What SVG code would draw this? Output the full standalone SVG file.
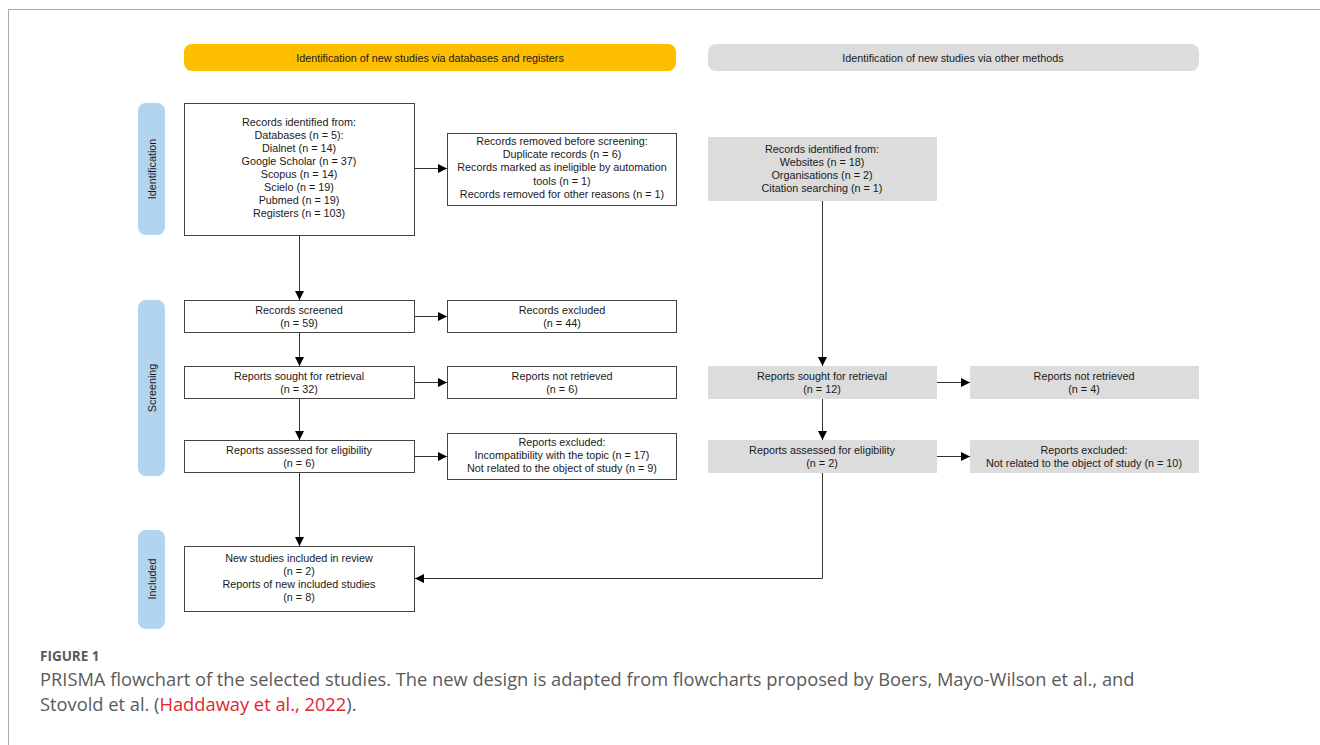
<svg xmlns="http://www.w3.org/2000/svg" width="1320" height="745" viewBox="0 0 1320 745">
<style>
.t{font-family:"Liberation Sans",Arial,sans-serif;font-size:10.8px;fill:#1a1a1a;text-anchor:middle}
.box{fill:#fff;stroke:#444;stroke-width:1}
.gbox{fill:#dcdcdc;stroke:none}
.side{fill:#b3d4ef}
.edge{fill:none;stroke:#333;stroke-width:1}
.cap{font-family:"Open Sans","Noto Sans",sans-serif;fill:#5a5a5a}
</style>
<defs>
<marker id="ah" viewBox="0 0 10 10" refX="10" refY="5" markerWidth="11" markerHeight="9" markerUnits="userSpaceOnUse" orient="auto">
<path d="M0,0 L10,5 L0,10 z" fill="#000"/>
</marker>
</defs>
<rect width="1320" height="745" fill="#fff"/>
<path d="M8.5,745 V9.5 H1320" fill="none" stroke="#aaa" stroke-width="1"/>

<g id="hdr-db"><rect x="184" y="44" width="492" height="27" rx="8" fill="#fdbf00"/><text class="t" x="430" y="61.5">Identification of new studies via databases and registers</text></g>
<g id="hdr-other"><rect x="708" y="44" width="491" height="27" rx="8" fill="#dcdcdc"/><text class="t" x="953" y="61.5">Identification of new studies via other methods</text></g>

<g id="side-ident"><rect class="side" x="138" y="103" width="27" height="132" rx="8"/><text class="t" transform="translate(155.5,169) rotate(-90)">Identification</text></g>
<g id="side-screen"><rect class="side" x="138" y="300" width="27" height="176" rx="8"/><text class="t" transform="translate(155.5,388) rotate(-90)">Screening</text></g>
<g id="side-incl"><rect class="side" x="138" y="530" width="27" height="99" rx="8"/><text class="t" transform="translate(155.5,579) rotate(-90)">Included</text></g>

<g id="n-identified"><rect class="box" x="184.5" y="103.5" width="230" height="132"/>
<text class="t" x="299" y="126">Records identified from:</text>
<text class="t" x="299" y="139">Databases (n = 5):</text>
<text class="t" x="299" y="152">Dialnet (n = 14)</text>
<text class="t" x="299" y="165">Google Scholar (n = 37)</text>
<text class="t" x="299" y="178">Scopus (n = 14)</text>
<text class="t" x="299" y="191">Scielo (n = 19)</text>
<text class="t" x="299" y="204">Pubmed (n = 19)</text>
<text class="t" x="299" y="217">Registers (n = 103)</text></g>

<g id="n-removed"><rect class="box" x="447.5" y="133.5" width="229" height="72"/>
<text class="t" x="562" y="145">Records removed before screening:</text>
<text class="t" x="562" y="158">Duplicate records (n = 6)</text>
<text class="t" x="562" y="171">Records marked as ineligible by automation</text>
<text class="t" x="562" y="185">tools (n = 1)</text>
<text class="t" x="562" y="198">Records removed for other reasons (n = 1)</text></g>

<g id="n-screened"><rect class="box" x="184.5" y="300.5" width="230" height="32"/>
<text class="t" x="299" y="314">Records screened</text><text class="t" x="299" y="327">(n = 59)</text></g>
<g id="n-excluded"><rect class="box" x="447.5" y="300.5" width="229" height="32"/>
<text class="t" x="562" y="314">Records excluded</text><text class="t" x="562" y="327">(n = 44)</text></g>

<g id="n-sought"><rect class="box" x="184.5" y="366.5" width="230" height="32"/>
<text class="t" x="299" y="380">Reports sought for retrieval</text><text class="t" x="299" y="393">(n = 32)</text></g>
<g id="n-notret"><rect class="box" x="447.5" y="366.5" width="229" height="32"/>
<text class="t" x="562" y="380">Reports not retrieved</text><text class="t" x="562" y="393">(n = 6)</text></g>

<g id="n-assessed"><rect class="box" x="184.5" y="440.5" width="230" height="32"/>
<text class="t" x="299" y="454">Reports assessed for eligibility</text><text class="t" x="299" y="467">(n = 6)</text></g>
<g id="n-repexcl"><rect class="box" x="447.5" y="433.5" width="229" height="46"/>
<text class="t" x="562" y="446">Reports excluded:</text>
<text class="t" x="562" y="459">Incompatibility with the topic (n = 17)</text>
<text class="t" x="562" y="472">Not related to the object of study (n = 9)</text></g>

<g id="n-included"><rect class="box" x="184.5" y="546.5" width="230" height="65"/>
<text class="t" x="299" y="562">New studies included in review</text>
<text class="t" x="299" y="575">(n = 2)</text>
<text class="t" x="299" y="588">Reports of new included studies</text>
<text class="t" x="299" y="601">(n = 8)</text></g>

<g id="o-identified"><rect class="gbox" x="708" y="137" width="229" height="64"/>
<text class="t" x="822" y="153">Records identified from:</text>
<text class="t" x="822" y="166">Websites (n = 18)</text>
<text class="t" x="822" y="179">Organisations (n = 2)</text>
<text class="t" x="822" y="192">Citation searching (n = 1)</text></g>

<g id="o-sought"><rect class="gbox" x="708" y="366" width="229" height="33"/>
<text class="t" x="822" y="380">Reports sought for retrieval</text><text class="t" x="822" y="393">(n = 12)</text></g>
<g id="o-notret"><rect class="gbox" x="970" y="366" width="229" height="33"/>
<text class="t" x="1084" y="380">Reports not retrieved</text><text class="t" x="1084" y="393">(n = 4)</text></g>
<g id="o-assessed"><rect class="gbox" x="708" y="440" width="229" height="33"/>
<text class="t" x="822" y="454">Reports assessed for eligibility</text><text class="t" x="822" y="467">(n = 2)</text></g>
<g id="o-excl"><rect class="gbox" x="970" y="440" width="229" height="33"/>
<text class="t" x="1084" y="454">Reports excluded:</text><text class="t" x="1084" y="467">Not related to the object of study (n = 10)</text></g>

<g id="connectors">
<path class="edge" d="M299.5,235 V300" marker-end="url(#ah)"/>
<path class="edge" d="M299.5,333 V366" marker-end="url(#ah)"/>
<path class="edge" d="M299.5,399 V440" marker-end="url(#ah)"/>
<path class="edge" d="M299.5,473 V546" marker-end="url(#ah)"/>
<path class="edge" d="M415,168.5 H447" marker-end="url(#ah)"/>
<path class="edge" d="M415,316.5 H447" marker-end="url(#ah)"/>
<path class="edge" d="M415,382.5 H447" marker-end="url(#ah)"/>
<path class="edge" d="M415,456.5 H447" marker-end="url(#ah)"/>
<path class="edge" d="M822.5,201 V366" marker-end="url(#ah)"/>
<path class="edge" d="M822.5,399 V440" marker-end="url(#ah)"/>
<path class="edge" d="M937,382.5 H970" marker-end="url(#ah)"/>
<path class="edge" d="M937,456.5 H970" marker-end="url(#ah)"/>
<path class="edge" d="M822.5,473 V578.5 H415" marker-end="url(#ah)"/>
</g>

<g id="caption">
<text class="cap" x="40" y="661" font-size="13.5" font-weight="bold" fill="#666">FIGURE 1</text>
<text class="cap" x="40" y="686" font-size="18.3">PRISMA flowchart of the selected studies. The new design is adapted from flowcharts proposed by Boers, Mayo-Wilson et al., and</text>
<text class="cap" x="40" y="711" font-size="18.3">Stovold et al. (<tspan fill="#e0262d">Haddaway et al., 2022</tspan>).</text>
</g>
</svg>
